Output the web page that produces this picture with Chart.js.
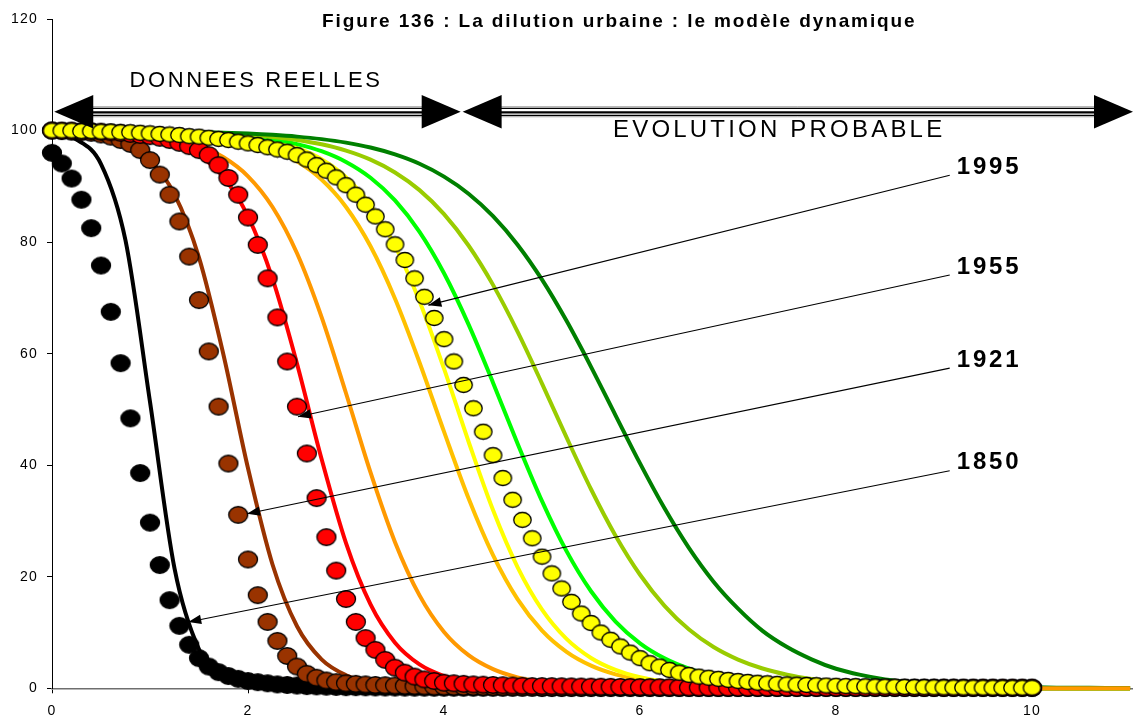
<!DOCTYPE html>
<html>
<head>
<meta charset="utf-8">
<script src="https://cdn.jsdelivr.net/npm/chart.js@4.4.0/dist/chart.umd.min.js"></script>
<style>
  body { margin: 0; background: #fff; }
</style>
</head>
<body>
<canvas id="myChart" width="1133" height="720"></canvas>
<script>
const titleText = 'Figure 136 : La dilution urbaine : le modèle dynamique';

// observed points, one every 0.1
const dotX = [
  0,0.1,0.2,0.3,0.4,0.5,0.6,0.7,0.8,0.9,
  1,1.1,1.2,1.3,1.4,1.5,1.6,1.7,1.8,1.9,
  2,2.1,2.2,2.3,2.4,2.5,2.6,2.7,2.8,2.9,
  3,3.1,3.2,3.3,3.4,3.5,3.6,3.7,3.8,3.9,
  4,4.1,4.2,4.3,4.4,4.5,4.6,4.7,4.8,4.9,
  5,5.1,5.2,5.3,5.4,5.5,5.6,5.7,5.8,5.9,
  6,6.1,6.2,6.3,6.4,6.5,6.6,6.7,6.8,6.9,
  7,7.1,7.2,7.3,7.4,7.5,7.6,7.7,7.8,7.9,
  8,8.1,8.2,8.3,8.4,8.5,8.6,8.7,8.8,8.9,
  9,9.1,9.2,9.3,9.4,9.5,9.6,9.7,9.8,9.9,
  10
];
const dots1850 = [
  96.0,94.1,91.4,87.6,82.5,75.8,67.5,58.3,48.4,38.6,
  29.7,22.1,15.8,11.2,7.8,5.4,3.9,2.9,2.2,1.7,
  1.3,1.1,0.9,0.7,0.6,0.5,0.4,0.35,0.3,0.25,
  0.2,0.2,0.18,0.16,0.15,0.14,0.13,0.12,0.11,0.1,
  0.1,0.1,0.1,0.1,0.1,0.1,0.1,0.1,0.1,0.1,
  0.05,0.05,0.05,0.05,0.05,0.05,0.05,0.05,0.05,0.05,
  0.05,0.05,0.05,0.05,0.05,0.05,0.05,0.05,0.05,0.05,
  0.05,0.05,0.05,0.05,0.05,0.05,0.05,0.05,0.05,0.05,
  0.05,0.05,0.05,0.05,0.05,0.05,0.05,0.05,0.05,0.05,
  0.05,0.05,0.05,0.05,0.05,0.05,0.05,0.05,0.05,0.05,
  0.05
];
const dots1921 = [
  100,99.9,99.8,99.7,99.6,99.3,98.9,98.3,97.6,96.5,
  94.7,92.1,88.5,83.7,77.4,69.6,60.4,50.5,40.3,31.1,
  23.1,16.7,11.9,8.5,5.8,3.9,2.6,1.9,1.4,1.1,
  0.9,0.8,0.7,0.6,0.55,0.5,0.45,0.4,0.35,0.3,
  0.3,0.28,0.26,0.24,0.22,0.2,0.19,0.18,0.17,0.16,
  0.15,0.15,0.14,0.14,0.13,0.13,0.12,0.12,0.11,0.11,
  0.1,0.1,0.1,0.1,0.1,0.1,0.1,0.1,0.1,0.1,
  0.1,0.1,0.1,0.1,0.1,0.1,0.1,0.1,0.1,0.1,
  0.1,0.1,0.1,0.1,0.1,0.1,0.1,0.1,0.1,0.1,
  0.1,0.1,0.1,0.1,0.1,0.1,0.1,0.1,0.1,0.1,
  0.1
];
const dots1955 = [
  100,100,100,99.9,99.9,99.8,99.7,99.6,99.4,99.2,
  99.0,98.7,98.3,97.8,97.2,96.5,95.6,93.8,91.5,88.5,
  84.4,79.5,73.5,66.5,58.6,50.5,42.1,34.1,27.1,21.1,
  16.0,11.9,9.0,6.9,5.1,3.7,2.8,2.1,1.6,1.3,
  1.0,0.9,0.8,0.7,0.65,0.6,0.55,0.5,0.45,0.4,
  0.4,0.38,0.36,0.34,0.32,0.3,0.28,0.26,0.24,0.22,
  0.2,0.19,0.18,0.17,0.16,0.15,0.14,0.13,0.12,0.11,
  0.1,0.1,0.1,0.1,0.1,0.1,0.1,0.1,0.1,0.1,
  0.1,0.1,0.1,0.1,0.1,0.1,0.1,0.1,0.1,0.1,
  0.1,0.1,0.1,0.1,0.1,0.1,0.1,0.1,0.1,0.1,
  0.1
];
const dots1995 = [
  100,100,100,99.9,99.9,99.8,99.8,99.7,99.7,99.6,
  99.5,99.4,99.3,99.2,99.0,98.9,98.7,98.5,98.3,98.0,
  97.7,97.4,97.0,96.6,96.2,95.6,94.8,93.8,92.8,91.6,
  90.2,88.5,86.7,84.6,82.3,79.6,76.8,73.5,70.2,66.4,
  62.6,58.6,54.4,50.2,46.0,41.8,37.7,33.8,30.2,26.9,
  23.6,20.6,17.9,15.5,13.4,11.7,10.0,8.7,7.5,6.4,
  5.4,4.5,3.9,3.3,2.8,2.4,2.1,1.9,1.7,1.5,
  1.3,1.15,1.0,0.9,0.8,0.7,0.65,0.6,0.55,0.5,
  0.45,0.4,0.38,0.35,0.32,0.3,0.28,0.25,0.22,0.2,
  0.18,0.16,0.15,0.14,0.13,0.12,0.11,0.1,0.1,0.1,
  0.1
];

// model curves, one every 0.25
const curveX = [
  0,0.25,0.5,0.75,1,1.25,1.5,1.75,2,2.25,2.5,2.75,3,3.25,3.5,3.75,
  4,4.25,4.5,4.75,5,5.25,5.5,5.75,6,6.25,6.5,6.75,7,7.25,7.5,7.75,
  8,8.25,8.5,8.75,9,9.25,9.5,9.75,10,10.25,10.5,10.75,11
];
const curveBlack = [
  99.57,98.37,94.0,80.3,51.35,21.5,7.0,2.2,0.7,0.25,0.1,0.04,0.02,0,0,0,
  0,0,0,0,0,0,0,0,0,0,0,0,0,0,0,0,
  0,0,0,0,0,0,0,0,0,0,0,0,0
];
const curveBrown = [
  99.79,99.53,98.92,97.58,94.64,88.56,77.23,59.77,39.44,22.2,11.12,5.19,2.35,1.04,0.46,0.2,
  0.09,0.04,0.02,0,0,0,0,0,0,0,0,0,0,0,0,0,
  0,0,0,0,0,0,0,0,0,0,0,0,0
];
const curveRed = [
  99.93,99.85,99.71,99.42,98.85,97.74,95.61,91.63,84.62,73.45,58.18,41.15,26.02,15.03,8.17,4.28,
  2.2,1.12,0.57,0.29,0.14,0.07,0.04,0.02,0,0,0,0,0,0,0,0,
  0,0,0,0,0,0,0,0,0,0,0,0,0
];
const curveOrange = [
  99.91,99.84,99.72,99.5,99.11,98.43,97.25,95.2,91.8,86.3,78.0,66.6,52.9,38.7,26.2,16.66,
  10.11,5.95,3.44,1.96,1.11,0.63,0.36,0.2,0.11,0.06,0.04,0.02,0.02,0.02,0.02,0.02,
  0.02,0.02,0.02,0.02,0.02,0.02,0.02,0.02,0.02,0.02,0.02,0.02,0.02
];
const curveGold = [
  99.96,99.94,99.89,99.82,99.71,99.52,99.22,98.71,97.9,96.58,94.48,91.21,86.3,79.25,69.85,58.42,
  46.01,34.07,23.87,15.98,10.34,6.54,4.07,2.51,1.54,0.94,0.57,0.35,0.21,0.13,0.08,0.05,
  0.03,0.02,0.01,0.01,0,0,0,0,0,0,0,0,0
];
const curveYellow = [
  99.98,99.97,99.95,99.92,99.86,99.77,99.61,99.34,98.9,98.15,96.91,94.88,91.64,86.63,79.31,69.4,
  57.3,44.25,31.95,21.74,14.11,8.86,5.44,3.29,1.97,1.18,0.7,0.41,0.25,0.15,0.09,0.05,
  0.03,0.02,0.01,0,0,0,0,0,0,0,0,0,0
];
const curveGreen = [
  99.97,99.95,99.92,99.88,99.82,99.72,99.57,99.33,98.97,98.42,97.57,96.29,94.36,91.53,87.47,81.83,
  74.41,65.25,54.8,43.91,33.57,24.6,17.4,11.97,8.07,5.37,3.53,2.31,1.5,0.98,0.63,0.41,
  0.27,0.17,0.11,0.07,0.05,0.03,0.02,0.01,0.01,0.01,0,0,0
];
const curveYellowGreen = [
  99.96,99.95,99.92,99.89,99.83,99.75,99.64,99.46,99.21,98.84,98.31,97.53,96.4,94.78,92.49,89.32,
  85.02,79.39,72.33,63.96,54.64,44.98,35.69,27.36,20.36,14.79,10.54,7.4,5.15,3.55,2.44,1.67,
  1.14,0.78,0.53,0.36,0.24,0.17,0.11,0.08,0.05,0.04,0.02,0.02,0.01
];
const curveDarkGreen = [
  99.97,99.95,99.93,99.9,99.87,99.81,99.73,99.62,99.46,99.23,98.91,98.46,97.83,96.95,95.72,94.04,
  91.74,88.68,84.66,79.54,73.26,65.88,57.64,48.95,40.32,32.26,25.13,19.12,14.28,10.3,7.4,5.2,
  3.5,2.4,1.6,1.1,0.75,0.5,0.35,0.25,0.18,0.12,0.09,0.06,0.05
];

// year labels and where their leader arrows point
const yearLabels = ['1995', '1955', '1921', '1850'];
const yearTipX = [3.84, 2.51, 1.99, 1.39];
const yearTipY = [68.7, 48.7, 31.3, 11.9];
const yearFromY = [92.0, 74.1, 57.4, 39.0];
const yearFromX = 9.16;

const FONT = '"Liberation Sans", Arial, sans-serif';

function toPts(xs, ys) {
  return xs.map((x, i) => ({ x: x, y: ys[i] }));
}

function makeDot(fill, w, h) {
  const c = document.createElement('canvas');
  c.width = Math.ceil(w) + 3;
  c.height = Math.ceil(h) + 3;
  const g = c.getContext('2d');
  g.beginPath();
  g.ellipse(c.width / 2, c.height / 2, w / 2, h / 2, 0, 0, Math.PI * 2);
  g.fillStyle = fill;
  g.fill();
  g.lineWidth = 1.3;
  g.strokeStyle = '#000';
  g.stroke();
  return c;
}

function dotSet(ys, img, order) {
  return {
    data: toPts(dotX, ys),
    showLine: false,
    pointStyle: img,
    pointRadius: 9,
    pointHoverRadius: 9,
    clip: false,
    order: order
  };
}

function curveSet(ys, color, order) {
  return {
    data: toPts(curveX, ys),
    showLine: true,
    borderColor: color,
    borderWidth: 4,
    pointRadius: 0,
    pointHoverRadius: 0,
    cubicInterpolationMode: 'monotone',
    fill: false,
    clip: false,
    order: order
  };
}

function hLine(ctx, a, b, y) {
  ctx.beginPath();
  ctx.moveTo(a, y);
  ctx.lineTo(b, y);
  ctx.stroke();
}

function doubleArrow(ctx, x1, x2, y) {
  const L = 39, H = 16.7;
  const a = x1 + L - 2, b = x2 - L + 2;
  ctx.strokeStyle = '#a0a0a0';
  ctx.lineWidth = 1;
  hLine(ctx, a, b, y - 5);
  hLine(ctx, a, b, y + 5);
  ctx.strokeStyle = '#000';
  ctx.lineWidth = 1.4;
  hLine(ctx, a, b, y - 3.4);
  hLine(ctx, a, b, y + 3.6);
  ctx.lineWidth = 2.4;
  hLine(ctx, a, b, y + 0.6);
  ctx.fillStyle = '#000';
  ctx.beginPath();
  ctx.moveTo(x1, y);
  ctx.lineTo(x1 + L, y - H);
  ctx.lineTo(x1 + L, y + H);
  ctx.closePath();
  ctx.fill();
  ctx.beginPath();
  ctx.moveTo(x2, y);
  ctx.lineTo(x2 - L, y - H);
  ctx.lineTo(x2 - L, y + H);
  ctx.closePath();
  ctx.fill();
}

const annotations = {
  id: 'annotations',
  beforeDraw(chart) {
    chart.ctx.letterSpacing = '1.2px';
  },
  afterDraw(chart) {
    const ctx = chart.ctx;
    const xs = chart.scales.x, ys = chart.scales.y;
    const px = v => xs.getPixelForValue(v);
    const py = v => ys.getPixelForValue(v);
    ctx.save();
    ctx.fillStyle = '#000';
    ctx.textAlign = 'left';
    ctx.textBaseline = 'alphabetic';

    ctx.font = 'bold 19px ' + FONT;
    ctx.letterSpacing = '1.9px';
    ctx.fillText(titleText, 322, 26.7);

    ctx.font = '22px ' + FONT;
    ctx.letterSpacing = '2.6px';
    ctx.fillText('DONNEES REELLES', 129.5, 87.3);

    ctx.font = '24px ' + FONT;
    ctx.letterSpacing = '3.2px';
    ctx.fillText('EVOLUTION PROBABLE', 613, 136.7);

    const ay = py(103.37);
    doubleArrow(ctx, px(0.023), px(4.17), ay);
    doubleArrow(ctx, px(4.19), px(11.03), ay);

    ctx.font = 'bold 24px ' + FONT;
    ctx.letterSpacing = '2.8px';
    yearLabels.forEach((lab, i) => {
      const x0 = px(yearFromX), y0 = py(yearFromY[i]);
      const x1 = px(yearTipX[i]), y1 = py(yearTipY[i]);
      ctx.fillStyle = '#000';
      ctx.fillText(lab, x0 + 7, y0 - 1.5);
      ctx.strokeStyle = '#000';
      ctx.lineWidth = 1.1;
      ctx.beginPath();
      ctx.moveTo(x0, y0);
      ctx.lineTo(x1, y1);
      ctx.stroke();
      const ang = Math.atan2(y1 - y0, x1 - x0);
      const len = 13, half = 4.8;
      const bx = x1 - Math.cos(ang) * len, by = y1 - Math.sin(ang) * len;
      ctx.beginPath();
      ctx.moveTo(x1, y1);
      ctx.lineTo(bx - Math.sin(ang) * half, by + Math.cos(ang) * half);
      ctx.lineTo(bx + Math.sin(ang) * half, by - Math.cos(ang) * half);
      ctx.closePath();
      ctx.fill();
    });
    ctx.restore();
  }
};

const bigW = 19, bigH = 16.5;
const ctx = document.getElementById('myChart').getContext('2d');

const myChart = new Chart(ctx, {
  type: 'scatter',
  data: {
    datasets: [
      dotSet(dots1995, makeDot('#ffff00', 17.5, 15), 1),
      dotSet(dots1955, makeDot('#ff0000', bigW, bigH), 2),
      dotSet(dots1921, makeDot('#993300', bigW, bigH), 3),
      dotSet(dots1850, makeDot('#000000', bigW, bigH), 4),
      curveSet(curveOrange, '#ff9900', 5),
      curveSet(curveDarkGreen, '#008000', 6),
      curveSet(curveYellowGreen, '#99cc00', 7),
      curveSet(curveGreen, '#00ff00', 8),
      curveSet(curveYellow, '#ffff00', 9),
      curveSet(curveGold, '#ffc000', 10),
      curveSet(curveRed, '#ff0000', 11),
      curveSet(curveBrown, '#993300', 12),
      curveSet(curveBlack, '#000000', 13)
    ]
  },
  options: {
    responsive: false,
    devicePixelRatio: 1,
    animation: false,
    events: [],
    layout: { autoPadding: false, padding: { top: 19, right: 0, bottom: 0, left: 0 } },
    plugins: {
      legend: { display: false },
      tooltip: { enabled: false },
      title: { display: false }
    },
    scales: {
      x: {
        type: 'linear',
        min: 0,
        max: 11.03,
        afterBuildTicks: (s) => {
          s.ticks = s.ticks.filter(t => t.value <= 10.001 && Math.abs(t.value % 2) < 1e-6);
        },
        afterFit: (s) => { s.height = 720 - 688.3; },
        ticks: {
          stepSize: 2,
          padding: 9,
          color: '#000',
          maxRotation: 0,
          autoSkip: false,
          font: { family: FONT, size: 14 }
        },
        grid: { drawOnChartArea: false, drawTicks: true, tickLength: 5, color: '#000' },
        border: { display: true, color: '#6e6e6e', width: 1.6 }
      },
      y: {
        min: 0,
        max: 120,
        afterFit: (s) => { s.width = 52; },
        ticks: {
          stepSize: 20,
          padding: 9,
          color: '#000',
          font: { family: FONT, size: 14 }
        },
        grid: { drawOnChartArea: false, drawTicks: true, tickLength: 5, color: '#000' },
        border: { display: true, color: '#000', width: 1 }
      }
    }
  },
  plugins: [annotations]
});
</script>
</body>
</html>
